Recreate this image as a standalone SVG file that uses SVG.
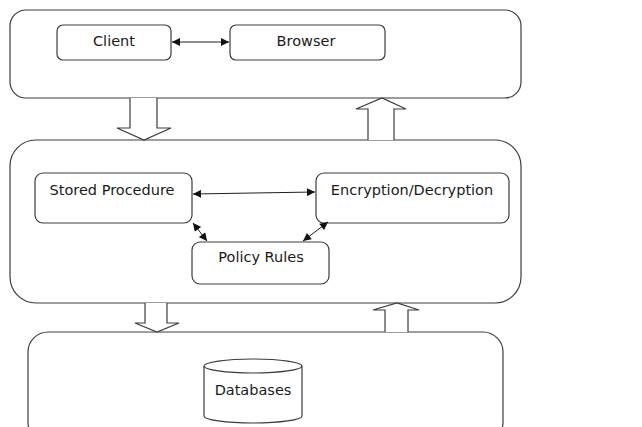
<svg xmlns="http://www.w3.org/2000/svg" width="642" height="427" viewBox="0 0 642 427">
  <style>
    .frame { fill: #ffffff; stroke: #3c3c3c; stroke-width: 1.2; }
    .box { fill: #ffffff; stroke: #3c3c3c; stroke-width: 1.2; }
    .flow { fill: #ffffff; stroke: #3c3c3c; stroke-width: 1.2; stroke-linejoin: miter; }
    .link { fill: none; stroke: #1e1e1e; stroke-width: 1; }
    .label { font-family: "DejaVu Sans", Verdana, sans-serif; font-size: 14.5px; fill: #1a1a1a; text-anchor: middle; }
  </style>
  <defs>
    <marker id="head" viewBox="0 0 10 10" refX="10" refY="5" markerWidth="9" markerHeight="8" markerUnits="userSpaceOnUse" orient="auto-start-reverse">
      <path d="M0,0 L10,5 L0,10 Z" fill="#111111"/>
    </marker>
  </defs>

  <rect width="642" height="427" fill="#ffffff"/>

  <!-- tier containers -->
  <g id="client-tier">
    <rect class="frame" x="10" y="10" width="511" height="88" rx="16" ry="16"/>
  </g>
  <g id="middle-tier">
    <rect class="frame" x="10" y="140" width="511" height="163" rx="26" ry="26"/>
  </g>
  <g id="data-tier">
    <rect class="frame" x="28" y="332" width="475" height="110" rx="20" ry="20"/>
  </g>

  <!-- block arrows between tiers -->
  <g id="flows">
    <path class="flow" d="M130,98 L130,128 L117,128 L144,140 L171,128 L157,128 L157,98"/>
    <path class="flow" d="M368,140 L368,109 L356,109 L382,98 L406,109 L394,109 L394,140"/>
    <path class="flow" d="M145,303 L145,323 L135,323 L157,332 L179,323 L167,323 L167,303"/>
    <path class="flow" d="M385,332 L385,310 L373,310 L397,303 L419,310 L408,310 L408,332"/>
  </g>

  <!-- nodes -->
  <g id="client">
    <rect class="box" x="57" y="25" width="114" height="35" rx="6" ry="6"/>
    <text class="label" x="114" y="46">Client</text>
  </g>
  <g id="browser">
    <rect class="box" x="230" y="25" width="155" height="35" rx="6" ry="6"/>
    <text class="label" x="306" y="46">Browser</text>
  </g>
  <g id="stored-procedure">
    <rect class="box" x="35" y="173" width="157" height="50" rx="8" ry="8"/>
    <text class="label" x="112" y="195">Stored Procedure</text>
  </g>
  <g id="encryption">
    <rect class="box" x="316" y="173" width="193" height="50" rx="8" ry="8"/>
    <text class="label" x="412" y="195">Encryption/Decryption</text>
  </g>
  <g id="policy-rules">
    <rect class="box" x="192" y="242" width="137" height="42" rx="8" ry="8"/>
    <text class="label" x="261" y="262">Policy Rules</text>
  </g>
  <g id="databases">
    <path class="box" d="M204,366 L204,416 A49,7 0 0 0 302,416 L302,366"/>
    <ellipse class="box" cx="253" cy="366" rx="49" ry="7"/>
    <text class="label" x="253" y="395">Databases</text>
  </g>

  <!-- connectors -->
  <g id="connectors">
    <line class="link" x1="172" y1="42" x2="229" y2="42" marker-start="url(#head)" marker-end="url(#head)"/>
    <line class="link" x1="193" y1="194" x2="315" y2="192" marker-start="url(#head)" marker-end="url(#head)"/>
    <line class="link" x1="193" y1="223" x2="207" y2="241" marker-start="url(#head)" marker-end="url(#head)"/>
    <line class="link" x1="328" y1="222" x2="303" y2="241" marker-start="url(#head)" marker-end="url(#head)"/>
  </g>
</svg>
